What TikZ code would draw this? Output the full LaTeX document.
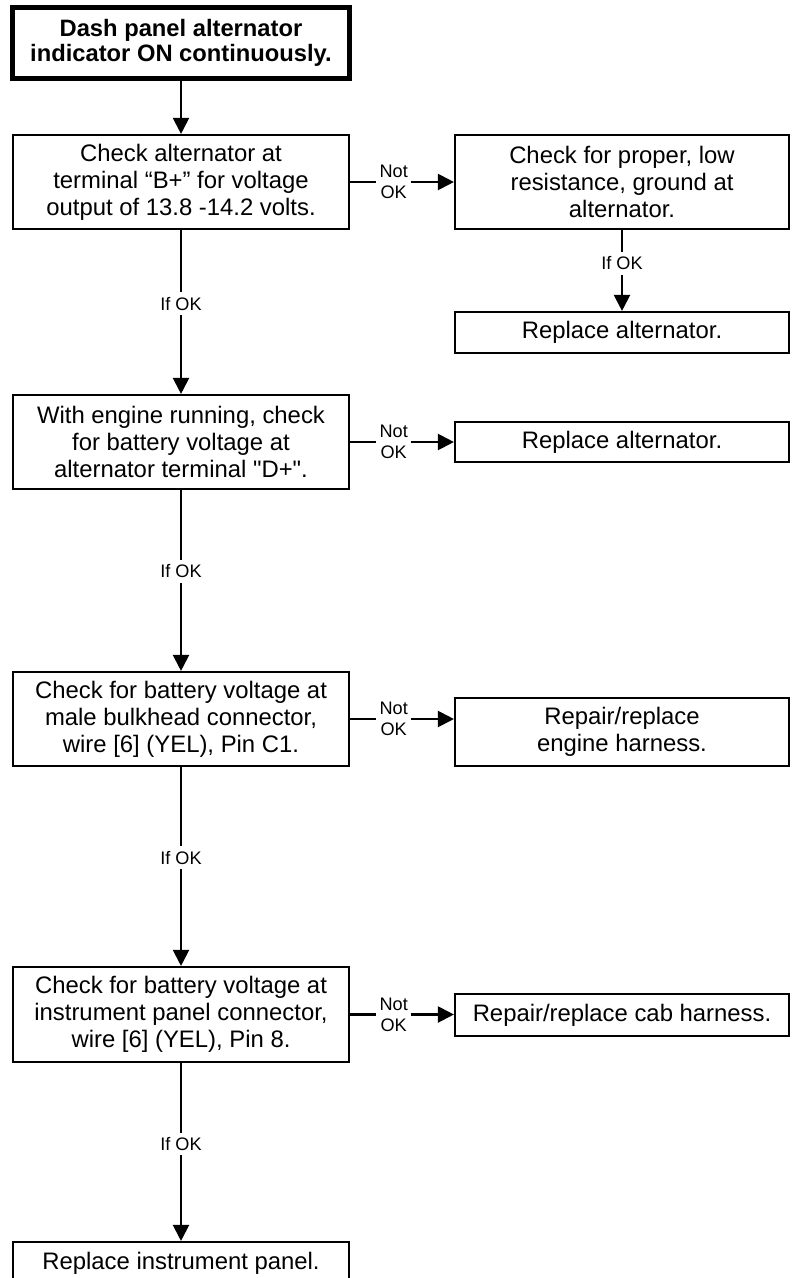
\documentclass[tikz,border=0pt]{standalone}
\usepackage{fontspec}
\setmainfont{Liberation Sans}
\usetikzlibrary{arrows.meta}
\begin{document}
\begin{tikzpicture}[x=0.75pt,y=-0.75pt,
  box/.style={draw,line width=1.6pt,inner sep=0pt,align=center,
    font=\fontsize{17.9pt}{20.2pt}\selectfont},
  lbox/.style={box,minimum width=252pt},
  rbox/.style={box,minimum width=250.5pt},
  headbox/.style={draw,line width=4pt,inner sep=0pt,align=center,
    minimum width=252.75pt,minimum height=53.25pt,
    font=\bfseries\fontsize{17.8pt}{18.75pt}\selectfont},
  flow/.style={line width=1.6pt,-{Triangle[length=12pt,width=12pt]}},
  tag/.style={fill=white,inner xsep=2.6pt,inner ysep=1pt,align=center,
    font=\fontsize{13.6pt}{15.6pt}\selectfont},
  oktag/.style={tag,inner ysep=3.5pt},
]
\useasboundingbox (0,0) rectangle (794,1278);

% symptom
\node[headbox] (start) at (181,43) {Dash panel alternator\\indicator ON continuously.};

% main checks (left column)
\node[lbox,minimum height=70.5pt] (b1) at (181,182)
  {Check alternator at\\terminal “B+” for voltage\\output of 13.8 -14.2 volts.};
\node[lbox,minimum height=70.5pt] (b2) at (181,442)
  {With engine running, check\\for battery voltage at\\alternator terminal \textquotedbl D+\textquotedbl.};
\node[lbox,minimum height=70.5pt] (b3) at (181,719)
  {Check for battery voltage at\\male bulkhead connector,\\wire [6] (YEL), Pin C1.};
\node[lbox,minimum height=71.25pt] (b4) at (181,1014.5)
  {Check for battery voltage at\\instrument panel connector,\\wire [6] (YEL), Pin 8.};
\node[lbox,minimum height=31.5pt] (b5) at (181,1263)
  {Replace instrument panel.};

% remedies (right column)
\node[rbox,minimum height=70.5pt] (r1) at (622,182)
  {Check for proper, low\\resistance, ground at\\alternator.};
\node[rbox,minimum height=30.75pt] (r1b) at (622,332.5) {Replace alternator.};
\node[rbox,minimum height=30pt] (r2) at (622,442) {Replace alternator.};
\node[rbox,minimum height=51pt] (r3) at (622,732) {Repair/replace\\engine harness.};
\node[rbox,minimum height=31.5pt] (r4) at (622,1015) {Repair/replace cab harness.};

% main path
\draw[flow] (start) -- (b1);
\draw[flow] (b1) -- node[oktag,pos=0.45] {If OK} (b2);
\draw[flow] (b2) -- node[oktag,pos=0.45] {If OK} (b3);
\draw[flow] (b3) -- node[oktag,pos=0.455] {If OK} (b4);
\draw[flow] (b4) -- node[oktag,pos=0.455] {If OK} (b5);

% failure branches
\draw[flow] (b1.east) -- node[tag,pos=0.42] {Not\\OK} (r1.west);
\draw[flow] (r1) -- node[oktag,pos=0.41] {If OK} (r1b);
\draw[flow] (b2.east) -- node[tag,pos=0.42] {Not\\OK} (r2.west);
\draw[flow] (b3.east) -- node[tag,pos=0.42] {Not\\OK} (b3.east -| r3.west);
\draw[flow] (b4.east) -- node[tag,pos=0.42] {Not\\OK} (b4.east -| r4.west);
\end{tikzpicture}
\end{document}
